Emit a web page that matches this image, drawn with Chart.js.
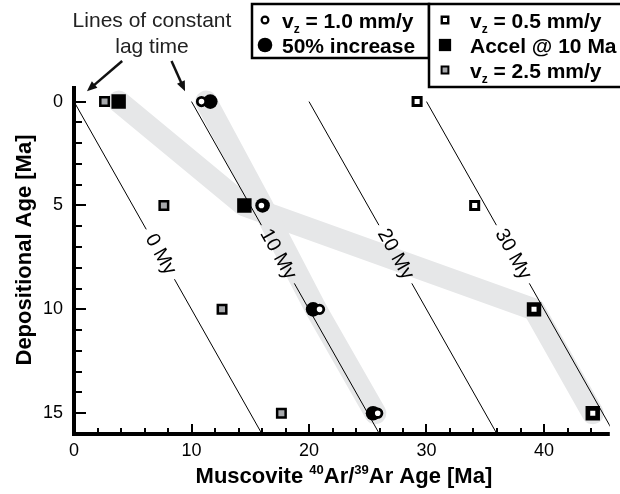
<!DOCTYPE html>
<html>
<head>
<meta charset="utf-8">
<script src="https://cdn.jsdelivr.net/npm/chart.js@4.4.1/dist/chart.umd.min.js"></script>
<style>
  html, body { margin: 0; padding: 0; background: #fff; overflow: hidden; }
  canvas { display: block; }
</style>
</head>
<body>
<canvas id="lagChart" width="620" height="494"></canvas>
<script>
// depositional age of each sample (Ma)
const depAge = [0, 5, 10, 15];

// muscovite 40Ar/39Ar ages (Ma) for each model run
const vz10 = [10.85, 15.95, 20.9, 25.85];   // v_z = 1.0 mm/y
const inc50 = [11.6, 16.05, 20.35, 25.45];  // 50% increase
const vz05 = [29.2, 34.1, 39.15, 44.15];    // v_z = 0.5 mm/y
const accel10 = [3.8, 14.5, 39.15, 44.15];  // accel @ 10 Ma
const vz25 = [2.6, 7.65, 12.6, 17.65];      // v_z = 2.5 mm/y

// centre line of the shaded trend for the circle runs
const trendCircles = [11.25, 16.0, 20.6, 25.65];

// lines of constant lag time
const lagTimes = [0, 10, 20, 30];
const lagLabels = ['0 My', '10 My', '20 My', '30 My'];
const lagGapHalf = [1.2, 1.4, 1.4, 1.4];
const LAG_LABEL_AGE = 7.35;

const xTicks = [0, 10, 20, 30, 40];
const yTicks = [0, 5, 10, 15];

const FONT = '"Liberation Sans", Arial, Helvetica, sans-serif';
const BAND = '#e6e7e8';
const GREY = '#a7a9ac';

const pts = xs => xs.map((x, i) => ({ x: x, y: depAge[i] }));

function lagLine(lag, i) {
  const lo = LAG_LABEL_AGE - lagGapHalf[i];
  const hi = LAG_LABEL_AGE + lagGapHalf[i];
  return [
    { x: lag, y: 0 },
    { x: lag + lo, y: lo },
    { x: lag + LAG_LABEL_AGE, y: null },
    { x: lag + hi, y: hi },
    { x: lag + 16, y: 16 }
  ];
}

// marker styles, shared by the plot and the legend
const styles = {
  vz10:    { pointStyle: 'circle', radius: 4.2, borderWidth: 2.8, bg: '#fff' },
  inc50:   { pointStyle: 'circle', radius: 7.3, borderWidth: 0, bg: '#000' },
  vz05:    { pointStyle: 'rect', radius: 5.7, borderWidth: 3, bg: '#fff' },
  accel10: { pointStyle: 'rect', radius: 10.2, borderWidth: 0, bg: '#000' },
  vz25:    { pointStyle: 'rect', radius: 6, borderWidth: 2.5, bg: GREY }
};

function markerSet(name, xs) {
  const s = styles[name];
  return {
    data: pts(xs),
    pointStyle: s.pointStyle,
    pointRadius: s.radius,
    pointBorderWidth: s.borderWidth,
    pointBackgroundColor: s.bg,
    pointBorderColor: '#000',
    showLine: false
  };
}

// first dataset ends up on top
const datasets = [
  markerSet('vz10', vz10),
  markerSet('vz05', vz05),
  markerSet('inc50', inc50),
  markerSet('accel10', accel10),
  markerSet('vz25', vz25)
];
lagTimes.forEach((lag, i) => {
  datasets.push({
    data: lagLine(lag, i),
    showLine: true,
    spanGaps: false,
    borderColor: '#000',
    borderWidth: 1,
    pointRadius: 0
  });
});
[trendCircles, accel10].forEach(xs => {
  datasets.push({
    data: pts(xs),
    showLine: true,
    borderColor: BAND,
    borderWidth: 22,
    borderCapStyle: 'round',
    borderJoinStyle: 'round',
    pointRadius: 0
  });
});

function drawSymbol(ctx, s, x, y, k) {
  const r = s.radius * k;
  ctx.save();
  ctx.fillStyle = s.bg;
  ctx.strokeStyle = '#000';
  ctx.lineWidth = s.borderWidth * k;
  ctx.beginPath();
  if (s.pointStyle === 'circle') {
    ctx.arc(x, y, r, 0, Math.PI * 2);
  } else {
    const h = r * Math.SQRT1_2;
    ctx.rect(x - h, y - h, 2 * h, 2 * h);
  }
  ctx.fill();
  if (s.borderWidth > 0) ctx.stroke();
  ctx.restore();
}

// "v" with a subscript z, then the rest of the label
function drawVz(ctx, x, y, rest) {
  ctx.font = 'bold 21px ' + FONT;
  ctx.fillText('v', x, y);
  let cx = x + ctx.measureText('v').width;
  ctx.font = 'bold 12px ' + FONT;
  ctx.fillText('z', cx, y + 5);
  cx += ctx.measureText('z').width;
  ctx.font = 'bold 21px ' + FONT;
  ctx.fillText(rest, cx, y);
}

// no extra room for tick labels at the ends of either axis
function noPadding(s) {
  s.paddingLeft = 0;
  s.paddingRight = 0;
  s.paddingTop = 0;
  s.paddingBottom = 0;
}

const decorations = {
  id: 'decorations',
  afterDatasetsDraw(chart) {
    const ctx = chart.ctx;
    const xs = chart.scales.x, ys = chart.scales.y;
    ctx.save();
    ctx.fillStyle = '#000';
    ctx.font = '20px ' + FONT;
    ctx.textAlign = 'center';
    ctx.textBaseline = 'middle';
    lagTimes.forEach((lag, i) => {
      const x0 = xs.getPixelForValue(lag), y0 = ys.getPixelForValue(0);
      const x1 = xs.getPixelForValue(lag + 16), y1 = ys.getPixelForValue(16);
      const ang = Math.atan2(y1 - y0, x1 - x0);
      ctx.save();
      ctx.translate(xs.getPixelForValue(lag + LAG_LABEL_AGE), ys.getPixelForValue(LAG_LABEL_AGE));
      ctx.rotate(ang);
      ctx.fillText(lagLabels[i], 0, 0);
      ctx.restore();
    });
    ctx.restore();
  },
  afterDraw(chart) {
    const ctx = chart.ctx;
    const xs = chart.scales.x, ys = chart.scales.y;
    const { left, right, top, bottom } = chart.chartArea;
    ctx.save();

    // axes with inward ticks
    ctx.strokeStyle = '#000';
    ctx.lineWidth = 4;
    ctx.beginPath();
    ctx.moveTo(left, top);
    ctx.lineTo(left, bottom + 2);
    ctx.moveTo(left - 2, bottom);
    ctx.lineTo(right, bottom);
    ctx.stroke();
    ctx.lineWidth = 2;
    ctx.beginPath();
    for (let v = 2; v <= xs.max; v += 2) {
      const px = Math.round(xs.getPixelForValue(v));
      const len = v % 10 === 0 ? 10 : 6;
      ctx.moveTo(px, bottom);
      ctx.lineTo(px, bottom - len);
    }
    for (let v = 0; v < ys.max; v += 1) {
      const py = Math.round(ys.getPixelForValue(v));
      const len = v % 5 === 0 ? 12 : 8;
      ctx.moveTo(left, py);
      ctx.lineTo(left + len, py);
    }
    ctx.stroke();

    // axis titles
    ctx.fillStyle = '#000';
    ctx.textBaseline = 'alphabetic';
    ctx.save();
    ctx.translate(31, 250);
    ctx.rotate(-Math.PI / 2);
    ctx.textAlign = 'center';
    ctx.font = 'bold 22px ' + FONT;
    ctx.fillText('Depositional Age [Ma]', 0, 0);
    ctx.restore();

    const parts = [
      ['Muscovite ', 22, 0], ['40', 13, -9], ['Ar/', 22, 0],
      ['39', 13, -9], ['Ar Age [Ma]', 22, 0]
    ];
    ctx.textAlign = 'left';
    let total = 0;
    parts.forEach(p => { ctx.font = 'bold ' + p[1] + 'px ' + FONT; total += ctx.measureText(p[0]).width; });
    let tx = (left + right) / 2 - total / 2 + 2;
    parts.forEach(p => {
      ctx.font = 'bold ' + p[1] + 'px ' + FONT;
      ctx.fillText(p[0], tx, 483 + p[2]);
      tx += ctx.measureText(p[0]).width;
    });

    // annotation for the lag lines
    ctx.fillStyle = '#222';
    ctx.font = '21px ' + FONT;
    ctx.textAlign = 'center';
    ctx.fillText('Lines of constant', 152, 27);
    ctx.fillText('lag time', 152, 53);
    const arrows = [
      [{ x: 4.1, y: -1.95 }, { x: 1.1, y: -0.5 }],
      [{ x: 8.3, y: -1.95 }, { x: 9.45, y: -0.5 }]
    ];
    ctx.strokeStyle = '#111';
    ctx.fillStyle = '#111';
    ctx.lineWidth = 2.5;
    arrows.forEach(a => {
      const x0 = xs.getPixelForValue(a[0].x), y0 = ys.getPixelForValue(a[0].y);
      const x1 = xs.getPixelForValue(a[1].x), y1 = ys.getPixelForValue(a[1].y);
      const ang = Math.atan2(y1 - y0, x1 - x0);
      const hx = x1 - 9 * Math.cos(ang), hy = y1 - 9 * Math.sin(ang);
      ctx.beginPath();
      ctx.moveTo(x0, y0);
      ctx.lineTo(hx, hy);
      ctx.stroke();
      ctx.beginPath();
      ctx.moveTo(x1, y1);
      ctx.lineTo(x1 - 11 * Math.cos(ang - 0.4), y1 - 11 * Math.sin(ang - 0.4));
      ctx.lineTo(x1 - 11 * Math.cos(ang + 0.4), y1 - 11 * Math.sin(ang + 0.4));
      ctx.closePath();
      ctx.fill();
    });

    // legend boxes
    ctx.fillStyle = '#fff';
    ctx.strokeStyle = '#000';
    ctx.lineWidth = 2.5;
    ctx.fillRect(252, 4, 177, 54);
    ctx.strokeRect(252, 4, 177, 54);
    ctx.fillRect(429, 4, 195, 83);
    ctx.strokeRect(429, 4, 195, 83);

    ctx.fillStyle = '#000';
    ctx.textAlign = 'left';
    drawSymbol(ctx, styles.vz10, 265, 20, 0.8);
    drawVz(ctx, 282, 28, ' = 1.0 mm/y');
    drawSymbol(ctx, styles.inc50, 265, 45, 1);
    ctx.font = 'bold 21px ' + FONT;
    ctx.fillText('50% increase', 282, 53);

    drawSymbol(ctx, styles.vz05, 445, 20, 0.8);
    drawVz(ctx, 470, 28, ' = 0.5 mm/y');
    drawSymbol(ctx, styles.accel10, 445, 45, 0.85);
    ctx.font = 'bold 21px ' + FONT;
    ctx.fillText('Accel @ 10 Ma', 470, 53);
    drawSymbol(ctx, styles.vz25, 445, 70, 0.8);
    drawVz(ctx, 470, 78, ' = 2.5 mm/y');

    ctx.restore();
  }
};

new Chart(document.getElementById('lagChart'), {
  type: 'scatter',
  data: { datasets: datasets },
  options: {
    responsive: false,
    animation: false,
    events: [],
    layout: { padding: { top: 86, left: 0, right: 0, bottom: 0 } },
    plugins: { legend: { display: false }, tooltip: { enabled: false } },
    scales: {
      x: {
        type: 'linear',
        min: 0,
        max: 45.6,
        afterFit: s => { s.height = 60; noPadding(s); },
        afterBuildTicks: s => { s.ticks = xTicks.map(v => ({ value: v })); },
        grid: { display: false, drawTicks: false },
        border: { display: false },
        ticks: { padding: 6, color: '#000', font: { family: FONT, size: 18 }, maxRotation: 0 }
      },
      y: {
        type: 'linear',
        reverse: true,
        min: -0.75,
        max: 16,
        afterFit: s => { s.width = 74; noPadding(s); },
        afterBuildTicks: s => { s.ticks = yTicks.map(v => ({ value: v })); },
        grid: { display: false, drawTicks: false },
        border: { display: false },
        ticks: { padding: 11, color: '#000', font: { family: FONT, size: 18 } }
      }
    }
  },
  plugins: [decorations]
});
</script>
</body>
</html>
